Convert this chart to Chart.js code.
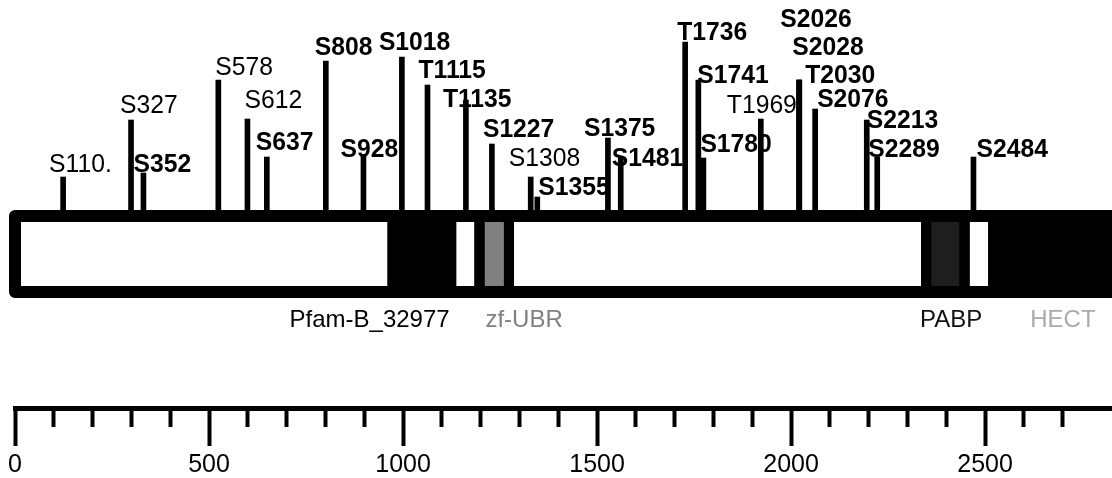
<!DOCTYPE html>
<html>
<head>
<meta charset="utf-8">
<script src="https://cdn.jsdelivr.net/npm/chart.js@4.4.1/dist/chart.umd.min.js"></script>
<style>
  html, body { margin: 0; padding: 0; background: #fff; }
  #wrap { width: 1112px; height: 478px; position: relative; }
</style>
</head>
<body>
<div id="wrap"><canvas id="sites"></canvas></div>
<script>
// phospho sites: label, position along the ruler, stem height above the protein bar
const siteLabels = ['S110.', 'S327', 'S352', 'S578', 'S612', 'S637', 'S808', 'S928', 'S1018', 'T1115',
  'T1135', 'S1227', 'S1308', 'S1355', 'S1375', 'S1481', 'T1736', 'S1741', 'S1780', 'T1969',
  'S2026', 'S2028', 'T2030', 'S2076', 'S2213', 'S2289', 'S2484'];
const sitePos = [124, 299, 331, 524, 599, 649, 801, 898, 997, 1063,
  1162, 1229, 1329, 1346, 1528, 1561, 1727, 1761, 1774, 1922,
  2021, 2021, 2021, 2062, 2195, 2222, 2470];
const siteHeight = [33, 90, 37, 130, 91, 53, 149, 55, 153, 125,
  110, 66, 33, 13, 72, 53, 168, 130, 52, 91,
  130, 130, 130, 101, 90, 53, 53];
// bold label = site seen in several studies
const siteStrong = [false, false, true, false, false, true, true, true, true, true,
  true, true, false, true, true, true, true, true, true, false,
  true, true, true, true, true, true, true];

// domains
const domainNames = ['Pfam-B_32977', 'zf-UBR', 'PABP', 'HECT'];
const domainStart = [960, 1184, 2335, 2508];
const domainEnd = [1137, 1286, 2460, 2880];
const proteinEnd = 2880;

// ruler
const rulerStep = 100;
const rulerLabelStep = 500;
const rulerLast = 2700;

// ---- look ----
const BAR_TOP = 0, BAR_BOTTOM = -88, EDGE = 12, INSET = 26;
const domainFill = { 'Pfam-B_32977': '#000', 'zf-UBR': '#808080', 'PABP': '#1e1e1e', 'HECT': '#000' };
const domainLabelColor = { 'Pfam-B_32977': '#000', 'zf-UBR': '#808080', 'PABP': '#111', 'HECT': '#aaa' };
const domainLabelShift = { 'Pfam-B_32977': -98, 'zf-UBR': 11, 'PABP': -1, 'HECT': 42 };
// label placement [dx from stem, dy from stem top], pixels
const siteNudge = [[-14, -5], [-11, -7], [-10, -1], [-3, -5], [-3, -11], [-11, -7], [-11, -6], [-23, 2], [-23, -7], [-9, -7],
  [-23, 7], [-9, -7], [-22, -11], [1, -2], [-24, -2], [-9, 9], [-8, -2], [-1, 3], [-3, -6], [-34, -6],
  [-19, -53], [-7, -25], [6, 3], [2, -2], [0, 8], [-9, 0], [3, 0]];

Chart.defaults.font.family = '"Liberation Sans", Arial, sans-serif';

function rect(x0, x1, yTop, yBot, color, order) {
  return {
    type: 'line',
    data: [{x: x0, y: yTop}, {x: x1, y: yTop}],
    fill: {value: yBot},
    backgroundColor: color,
    borderColor: 'transparent',
    borderWidth: 0,
    pointRadius: 0,
    order: order
  };
}

const innerTop = BAR_TOP - EDGE, innerBottom = BAR_BOTTOM + EDGE;
const datasets = [];

// stems
datasets.push({
  type: 'bar',
  data: sitePos.map((p, i) => ({x: p, y: [BAR_TOP, siteHeight[i]]})),
  backgroundColor: '#000',
  barThickness: 5,
  grouped: false,
  order: 1
});

// protein outline
datasets.push({
  type: 'line',
  data: [
    {x: proteinEnd, y: BAR_TOP - EDGE / 2}, {x: 0, y: BAR_TOP - EDGE / 2},
    {x: 0, y: BAR_BOTTOM + EDGE / 2}, {x: proteinEnd, y: BAR_BOTTOM + EDGE / 2}
  ],
  borderColor: '#000',
  borderWidth: EDGE,
  borderJoinStyle: 'round',
  fill: false,
  pointRadius: 0,
  clip: 10,
  order: 2
});

// black body, white linker regions, coloured domain cores
datasets.push(rect(0, proteinEnd, innerTop, innerBottom, '#000', 10));
const gapStart = [0].concat(domainEnd.slice(0, -1));
gapStart.forEach((s, i) => {
  datasets.push(rect(s, domainStart[i], innerTop, innerBottom, '#fff', 9));
});
domainNames.forEach((n, i) => {
  if (domainFill[n] !== '#000') {
    datasets.push(rect(domainStart[i] + INSET, domainEnd[i] - INSET, innerTop, innerBottom, domainFill[n], 8));
  }
});

const labelPlugin = {
  id: 'siteLabels',
  afterDatasetsDraw(chart) {
    const {ctx, scales: {x, y}} = chart;
    ctx.save();
    ctx.textBaseline = 'alphabetic';
    ctx.textAlign = 'left';
    ctx.fillStyle = '#000';
    siteLabels.forEach((lab, i) => {
      ctx.font = (siteStrong[i] ? 'bold ' : '') + '26px "Liberation Sans"';
      // the original lettering is a little narrower than Liberation Sans
      const w = ctx.measureText(lab).width * 0.95;
      ctx.fillText(lab, x.getPixelForValue(sitePos[i]) + siteNudge[i][0],
        y.getPixelForValue(siteHeight[i]) + siteNudge[i][1], w);
    });
    ctx.font = '24px "Liberation Sans"';
    domainNames.forEach((n, i) => {
      ctx.fillStyle = domainLabelColor[n];
      ctx.fillText(n, x.getPixelForValue(domainStart[i]) + domainLabelShift[n],
        y.getPixelForValue(BAR_BOTTOM) + 29);
    });
    ctx.restore();
  }
};

new Chart(document.getElementById('sites'), {
  type: 'bar',
  data: { datasets: datasets },
  options: {
    responsive: true,
    maintainAspectRatio: false,
    animation: false,
    layout: { padding: { left: 15, right: 0, top: 0, bottom: 0 } },
    plugins: { legend: { display: false }, tooltip: { enabled: false } },
    scales: {
      x: {
        type: 'linear',
        min: 0,
        max: 2827,
        offset: false,
        afterFit: (s) => { s.height = 70; },
        border: { color: '#000', width: 5 },
        grid: {
          offset: false,
          drawOnChartArea: false,
          drawTicks: true,
          tickLength: 38,
          tickWidth: 4,
          tickColor: (c) => (c.tick && c.tick.value <= rulerLast ? '#000' : 'rgba(0,0,0,0)'),
          tickBorderDash: (c) => (c.tick && c.tick.value % rulerLabelStep === 0 ? [] : [16, 100])
        },
        ticks: {
          stepSize: rulerStep,
          includeBounds: false,
          autoSkip: false,
          maxRotation: 0,
          padding: 4,
          color: '#000',
          font: { size: 25 },
          callback: (v) => (v % rulerLabelStep === 0 && v <= rulerLast ? String(v) : '')
        }
      },
      y: {
        type: 'linear',
        display: false,
        min: -198,
        max: 210
      }
    }
  },
  plugins: [labelPlugin]
});
</script>
</body>
</html>
